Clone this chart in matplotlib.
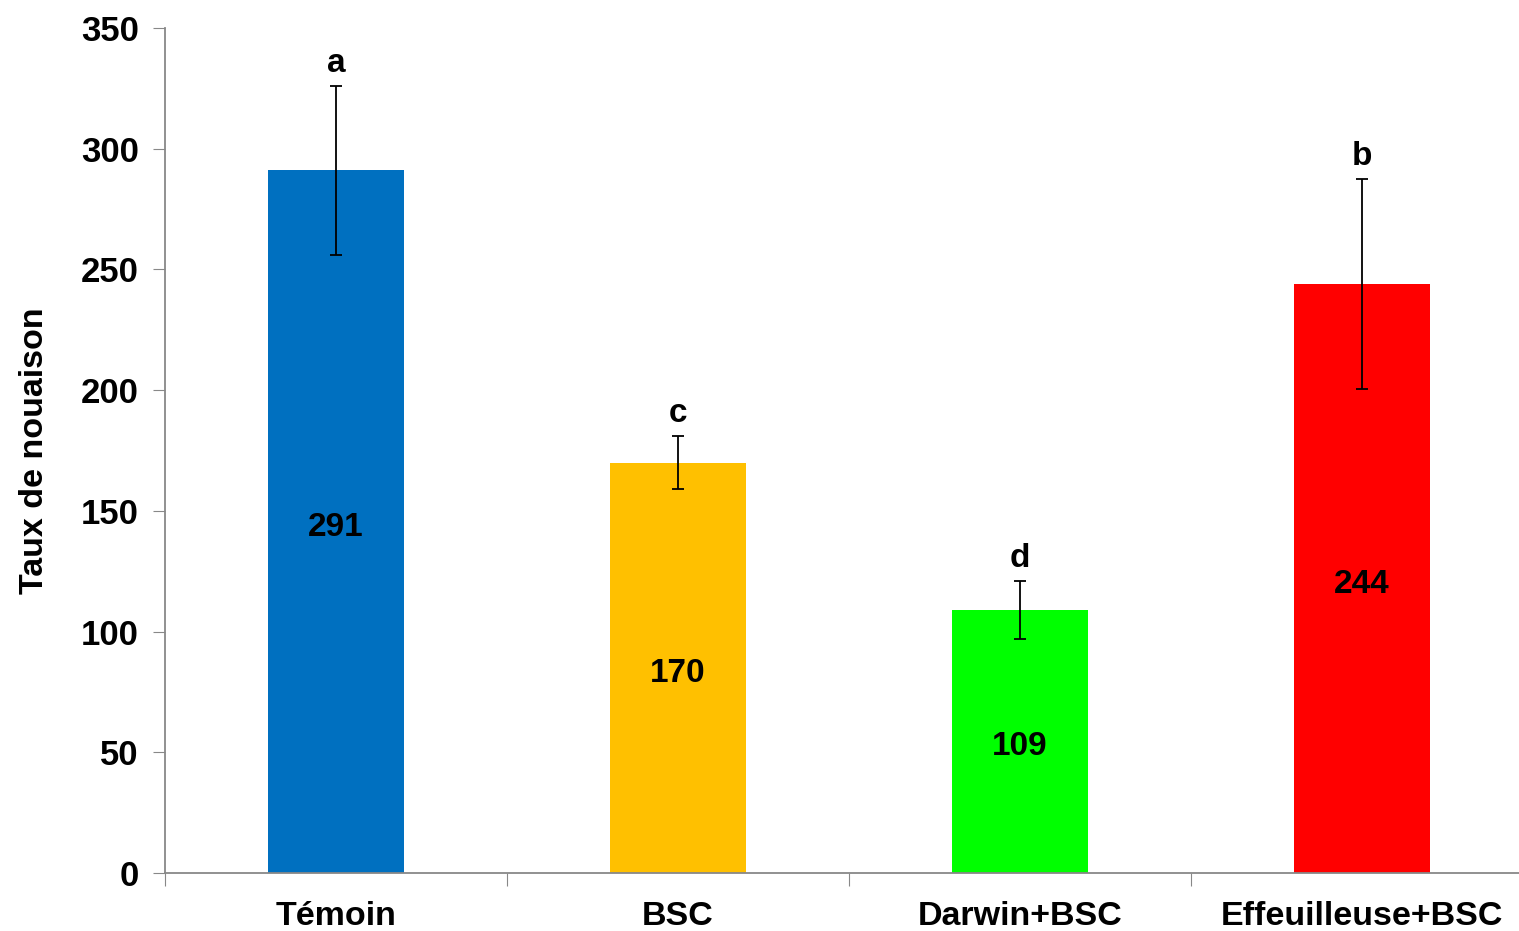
import matplotlib
matplotlib.use('Agg')
import matplotlib.pyplot as plt

categories = ['Témoin', 'BSC', 'Darwin+BSC', 'Effeuilleuse+BSC']
values = [291, 170, 109, 244]
errors = [35, 11, 12, 43.5]
letters = ['a', 'c', 'd', 'b']
colors = ['#0070C0', '#FFC000', '#00FF00', '#FF0000']

plt.rcParams['font.family'] = ['Liberation Sans', 'DejaVu Sans']
plt.rcParams['font.weight'] = 'bold'

fig = plt.figure(figsize=(15.19, 9.31), dpi=100)
ax = fig.add_axes([165 / 1519, 58 / 931, (1533 - 165) / 1519, 845 / 931])

x = range(len(categories))
ax.bar(x, values, width=0.4, color=colors, zorder=2)
ax.errorbar(x, values, yerr=errors, fmt='none', ecolor='black', elinewidth=1.3,
            capsize=4, capthick=1.3, zorder=3)

for i, (v, e, l) in enumerate(zip(values, errors, letters)):
    ax.annotate(str(v), (i, v / 2), xytext=(0, -4), textcoords='offset points',
                ha='center', va='center', fontsize=24, fontweight='bold')
    ax.annotate(l, (i, v + e), xytext=(0, 5), textcoords='offset points',
                ha='center', va='bottom', fontsize=24, fontweight='bold')

ax.set_xlim(-0.5, 3.5)
ax.set_ylim(0, 350)
ax.set_yticks(range(0, 351, 50))
ax.set_xticks([i - 0.5 for i in range(5)], minor=False)
ax.set_xticklabels([])
ax.set_xticks(list(x), minor=True)
ax.set_xticklabels(categories, minor=True, fontsize=24.5, fontweight='bold')
ax.tick_params(axis='x', which='minor', length=0, pad=20)
ax.tick_params(axis='x', which='major', length=9, color='#888888', direction='out')
ax.tick_params(axis='y', length=9, color='#888888', labelsize=25, pad=10)
for lab in ax.get_yticklabels():
    lab.set_fontweight('bold')

for s in ['top', 'right']:
    ax.spines[s].set_visible(False)
for s in ['left', 'bottom']:
    ax.spines[s].set_color('#888888')
    ax.spines[s].set_linewidth(1.3)

ax.set_ylabel('Taux de nouaison', fontsize=24.5, fontweight='bold', labelpad=22)

fig.savefig('out.png', dpi=100)
